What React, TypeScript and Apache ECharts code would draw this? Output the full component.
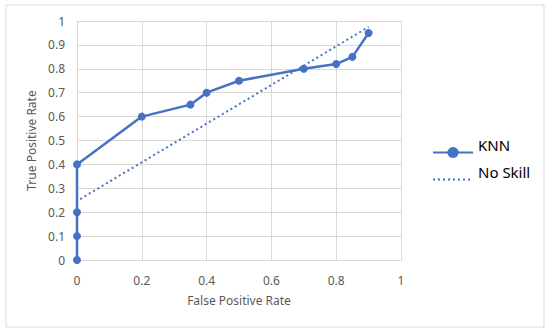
import React, { useEffect, useRef } from "react";
import * as echarts from "echarts";

const knnFpr = [0, 0, 0, 0, 0.2, 0.35, 0.4, 0.5, 0.7, 0.8, 0.85, 0.9];
const knnTpr = [0, 0.1, 0.2, 0.4, 0.6, 0.65, 0.7, 0.75, 0.8, 0.82, 0.85, 0.95];
const noSkillX = [0.01, 0.9];
const noSkillY = [0.255, 0.975];
const seriesNames = ["KNN", "No Skill"];

export default function App() {
  const ref = useRef<HTMLDivElement>(null);
  useEffect(() => {
    const chart = echarts.init(ref.current!, null, { renderer: "svg" });
    const font = "'Noto Sans', sans-serif";
    const gray = "#595959";
    const blue = "#4472C4";
    chart.setOption({
      animation: false,
      backgroundColor: "#fff",
      graphic: [
        {
          type: "rect",
          shape: { x: 6, y: 5, width: 538, height: 322 },
          style: { fill: "none", stroke: "#d9d9d9", lineWidth: 1 },
          silent: true,
        },
      ],
      grid: { left: 77, right: 149, top: 21, bottom: 74 },
      legend: {
        orient: "vertical",
        left: 427,
        top: 132,
        itemWidth: 40,
        itemHeight: 14,
        itemGap: 6,
        data: [
          { name: seriesNames[0] },
          { name: seriesNames[1], itemStyle: { opacity: 0 } },
        ],
        formatter: (n: string) => "{a|" + n + "}",
        textStyle: {
          fontFamily: font,
          fontSize: 15,
          color: "#000",
          rich: { a: { fontFamily: font, fontSize: 15, color: "#000", padding: [0, 0, 16, 0] } },
        },
      },
      xAxis: {
        type: "value",
        min: 0,
        max: 1,
        interval: 0.2,
        name: "False Positive Rate",
        nameLocation: "middle",
        nameGap: 34,
        nameTextStyle: { fontFamily: font, fontSize: 12, color: gray },
        axisLine: { show: true, lineStyle: { color: "#d9d9d9" } },
        axisTick: { show: false },
        axisLabel: { fontFamily: font, fontSize: 12, color: gray, margin: 14 },
        splitLine: { lineStyle: { color: "#d9d9d9" } },
      },
      yAxis: {
        type: "value",
        min: 0,
        max: 1,
        interval: 0.1,
        name: "True Positive Rate",
        nameLocation: "middle",
        nameGap: 37,
        nameTextStyle: { fontFamily: font, fontSize: 12, color: gray },
        axisLine: { show: false },
        axisTick: { show: false },
        axisLabel: { fontFamily: font, fontSize: 12, color: gray, margin: 12 },
        splitLine: { lineStyle: { color: "#d9d9d9" } },
      },
      series: [
        {
          name: seriesNames[0],
          type: "line",
          data: knnFpr.map((x, i) => [x, knnTpr[i]]),
          symbol: "circle",
          symbolSize: 8,
          lineStyle: { color: blue, width: 2.5 },
          itemStyle: { color: blue },
          z: 3,
        },
        {
          name: seriesNames[1],
          type: "line",
          data: noSkillX.map((x, i) => [x, noSkillY[i]]),
          symbol: "none",
          lineStyle: { color: blue, width: 2, type: [2, 3] },
          itemStyle: { color: blue },
          z: 2,
        },
      ],
    });
    return () => chart.dispose();
  }, []);
  return <div ref={ref} style={{ width: 550, height: 334, position: "absolute", left: 0, top: 0 }} />;
}
